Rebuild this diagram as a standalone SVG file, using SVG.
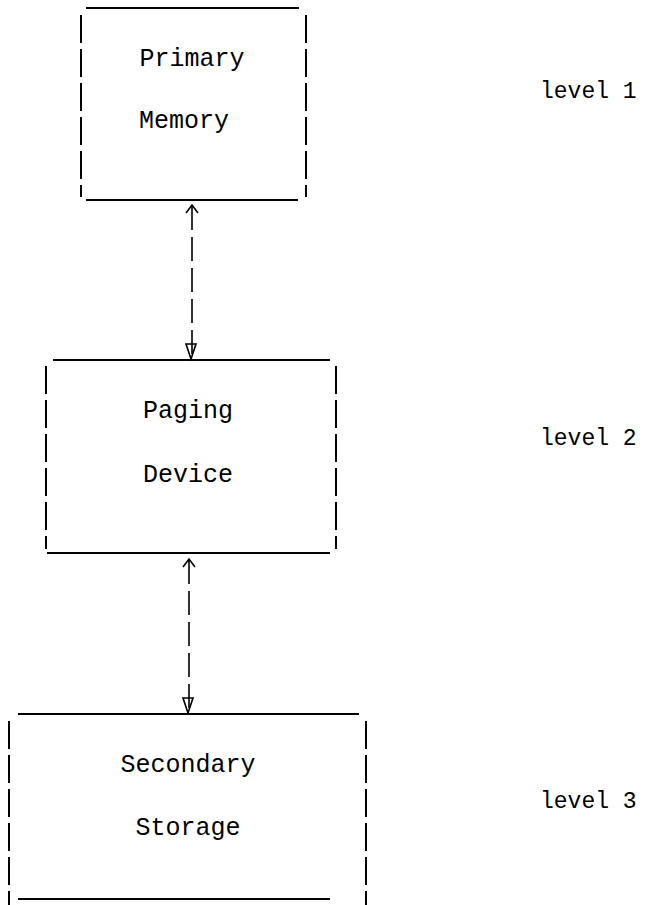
<svg xmlns="http://www.w3.org/2000/svg" width="654" height="905" viewBox="0 0 654 905">
<style>
.h{stroke:#000;stroke-width:2;fill:none}
.v{stroke:#000;stroke-width:2;fill:none;stroke-dasharray:28 6}
.c{stroke:#000;stroke-width:1.6;fill:none;stroke-dasharray:24 7}
.ah{stroke:#000;stroke-width:1.6;fill:none}
.t{font-family:"Liberation Mono","DejaVu Sans Mono",monospace;font-size:25px;fill:#000;text-anchor:middle}
.l{font-family:"Liberation Mono","DejaVu Sans Mono",monospace;font-size:23px;fill:#000}
</style>
<rect width="654" height="905" fill="#fff"/>
<g id="primary-memory">
<line class="h" x1="86" y1="8" x2="299" y2="8"/>
<line class="h" x1="86" y1="200" x2="298" y2="200"/>
<line class="v" x1="81" y1="15" x2="81" y2="197"/>
<line class="v" x1="306" y1="15" x2="306" y2="197"/>
<text class="t" x="192" y="66">Primary</text>
<text class="t" x="184" y="128">Memory</text>
</g>
<g id="paging-device">
<line class="h" x1="53" y1="360" x2="330" y2="360"/>
<line class="h" x1="47" y1="553" x2="330" y2="553"/>
<line class="v" x1="46" y1="366" x2="46" y2="549"/>
<line class="v" x1="336" y1="366" x2="336" y2="549"/>
<text class="t" x="188" y="418">Paging</text>
<text class="t" x="188" y="482">Device</text>
</g>
<g id="secondary-storage">
<line class="h" x1="18" y1="714" x2="359" y2="714"/>
<line class="h" x1="18" y1="899" x2="330" y2="899"/>
<line class="v" x1="9" y1="721" x2="9" y2="905"/>
<line class="v" x1="366" y1="721" x2="366" y2="905"/>
<text class="t" x="188" y="772">Secondary</text>
<text class="t" x="188" y="835">Storage</text>
</g>
<g id="levels">
<text class="l" x="540" y="98">level 1</text>
<text class="l" x="540" y="445">level 2</text>
<text class="l" x="540" y="808">level 3</text>
</g>
<g id="connectors">
<line class="c" x1="192" y1="206" x2="192" y2="358"/>
<path class="ah" d="M186,213 L192,205 L198,213"/>
<path class="ah" d="M186,344 L196,344 L191,359 Z"/>
<line class="c" x1="189" y1="560" x2="189" y2="712"/>
<path class="ah" d="M183,567 L189,559 L195,567"/>
<path class="ah" d="M183,698 L193,698 L188,713 Z"/>
</g>
</svg>
